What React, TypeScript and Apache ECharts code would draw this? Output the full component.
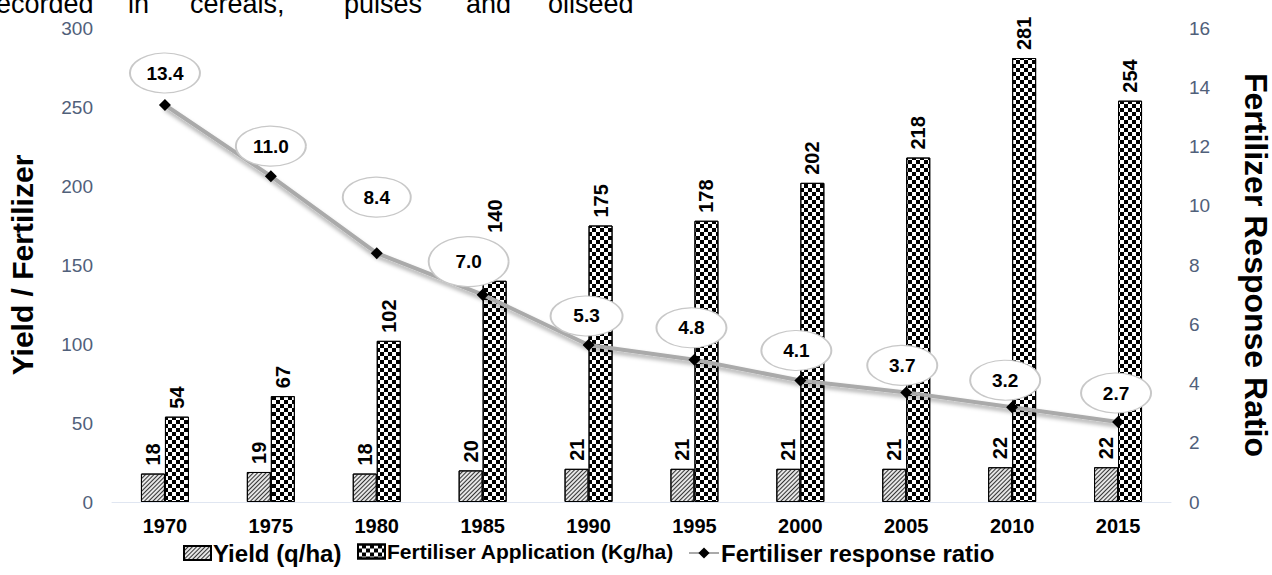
import React, { useEffect, useRef } from "react";
import * as echarts from "echarts";

const categories = ["1970", "1975", "1980", "1985", "1990", "1995", "2000", "2005", "2010", "2015"];
const yieldValues = [18, 19, 18, 20, 21, 21, 21, 21, 22, 22];
const fertiliserValues = [54, 67, 102, 140, 175, 178, 202, 218, 281, 254];
const ratioValues = [13.4, 11.0, 8.4, 7.0, 5.3, 4.8, 4.1, 3.7, 3.2, 2.7];
const leftAxis = { min: 0, max: 300, interval: 50 };
const rightAxis = { min: 0, max: 16, interval: 2 };
const seriesNames = ["Yield (q/ha)", "Fertiliser Application (Kg/ha)", "Fertiliser response ratio"];
const headerWords = ["ecorded", "in", "cereals,", "pulses", "and", "oilseed"];

// styling only (bubble placement relative to each point, legend placement)
const bubbleOffsets = [[0, -32], [0, -30], [0, -56], [-14, -33], [-2, -29], [-3, -32], [-4, -30], [-4, -27], [-7, -27], [-2, -29]];
const bubbleSizes = [[70, 40], [70, 40], [68, 40], [80, 50], [72, 40], [70, 40], [70, 40], [70, 40], [70, 40], [70, 40]];
const fertLabelDistance = [8, 8, 8, 48, 8, 8, 8, 8, 8, 8];
const headerX = [-4, 128, 190, 344, 466, 548];
const legendLeft = [183, 357, 688];
const legendFont = [24, 21, 24];

const FONT = "'Liberation Sans', Arial, sans-serif";

export default function App() {
  const ref = useRef<HTMLDivElement>(null);
  useEffect(() => {
    if (!ref.current) return;
    const chart = echarts.init(ref.current, null, { renderer: "svg" });
    const barLabel = {
      show: true,
      position: "top",
      rotate: 90,
      align: "left",
      verticalAlign: "middle",
      distance: 8,
      fontFamily: FONT,
      fontWeight: "bold",
      fontSize: 20,
      color: "#000",
    };
    const yieldDecal = {
      symbol: "rect",
      symbolSize: 1,
      color: "#333",
      dashArrayX: [1, 0],
      dashArrayY: [1, 2],
      rotation: -Math.PI / 4,
    };
    const fertDecal = {
      symbol: "rect",
      symbolSize: 1,
      color: "#000",
      dashArrayX: [[4, 4], [0, 4, 4, 0]],
      dashArrayY: [4, 0],
      rotation: 0,
    };
    chart.setOption({
      animation: false,
      textStyle: { fontFamily: FONT },
      grid: { left: 112, right: 101, top: 28, bottom: 73, containLabel: false, outerBoundsMode: "none" },
      legend: seriesNames.map((n, i) => ({
        data: [{ name: n, icon: i < 2 ? "rect" : undefined }],
        left: legendLeft[i],
        top: 541,
        itemWidth: i < 2 ? 27 : 30,
        itemHeight: 14,
        itemGap: 0,
        padding: 0,
        selectedMode: false,
        textStyle: { fontFamily: FONT, fontWeight: "bold", fontSize: legendFont[i], color: "#000", padding: [0, 0, 0, -3] },
      })),
      graphic: headerWords.map((w, i) => ({
        type: "text",
        x: headerX[i],
        y: 17,
        style: { text: w, fontSize: 27, fontFamily: FONT, fill: "#000", verticalAlign: "bottom" },
      })),
      xAxis: {
        type: "category",
        data: categories,
        axisLine: { show: true, lineStyle: { color: "#e0e6f1", width: 1 } },
        axisTick: { show: false },
        axisLabel: { fontFamily: FONT, fontWeight: "bold", fontSize: 20, color: "#000", margin: 14 },
      },
      yAxis: [
        {
          type: "value",
          ...leftAxis,
          name: "Yield / Fertilizer",
          nameLocation: "middle",
          nameGap: 75,
          nameTextStyle: { fontFamily: FONT, fontWeight: "bold", fontSize: 30, color: "#000" },
          splitLine: { show: false },
          axisLine: { show: false },
          axisTick: { show: false },
          axisLabel: { fontFamily: FONT, fontSize: 19, color: "#50607a", margin: 19 },
        },
        {
          type: "value",
          ...rightAxis,
          position: "right",
          name: "Fertilizer Response Ratio",
          nameLocation: "middle",
          nameRotate: -90,
          nameGap: 69,
          nameTextStyle: { fontFamily: FONT, fontWeight: "bold", fontSize: 32, color: "#000" },
          splitLine: { show: false },
          axisLine: { show: false },
          axisTick: { show: false },
          axisLabel: { fontFamily: FONT, fontSize: 19, color: "#50607a", margin: 18 },
        },
      ],
      series: [
        {
          name: seriesNames[0],
          type: "bar",
          data: yieldValues,
          barWidth: 24,
          barGap: "0%",
          itemStyle: { color: "#e6e6e6", borderColor: "#000", borderWidth: 1, decal: yieldDecal },
          label: barLabel,
          emphasis: { disabled: true },
        },
        {
          name: seriesNames[1],
          type: "bar",
          data: fertiliserValues.map((v, i) => ({ value: v, label: { distance: fertLabelDistance[i] } })),
          barWidth: 24,
          barGap: "0%",
          itemStyle: { color: "#fff", borderColor: "#000", borderWidth: 1, decal: fertDecal },
          label: barLabel,
          emphasis: { disabled: true },
        },
        {
          name: seriesNames[2],
          type: "line",
          yAxisIndex: 1,
          data: ratioValues,
          symbol: "diamond",
          symbolSize: 12,
          z: 4,
          lineStyle: {
            color: "#aaaaaa",
            width: 4,
            shadowColor: "rgba(0,0,0,0.35)",
            shadowBlur: 4,
            shadowOffsetY: 3,
          },
          itemStyle: { color: "#000", borderWidth: 0 },
          emphasis: { disabled: true },
        },
        {
          name: "bubbles",
          type: "scatter",
          yAxisIndex: 1,
          silent: true,
          z: 5,
          data: ratioValues.map((v, i) => ({
            value: v,
            symbolSize: bubbleSizes[i],
            symbolOffset: bubbleOffsets[i],
          })),
          symbol: "circle",
          itemStyle: { color: "#fff", borderColor: "#c8c8c8", borderWidth: 1.5, opacity: 1 },
          label: {
            show: true,
            position: "inside",
            formatter: (p: any) => Number(p.value).toFixed(1),
            fontFamily: FONT,
            fontWeight: "bold",
            fontSize: 19,
            color: "#000",
          },
          emphasis: { disabled: true },
        },
      ],
    });
    return () => chart.dispose();
  }, []);
  return <div ref={ref} style={{ width: 1272, height: 575, position: "absolute", left: 0, top: 0 }} />;
}
